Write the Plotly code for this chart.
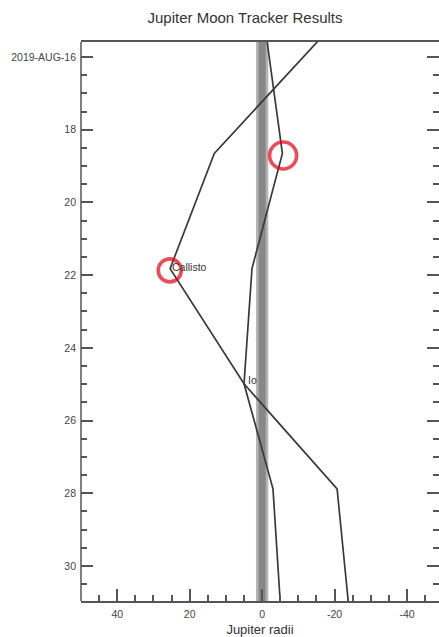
import plotly.graph_objects as go

# Sample epochs (day of August 2019) and apparent offsets from Jupiter in Jupiter radii
days = [15.5, 18.65, 21.82, 24.99, 27.88, 31.0]
io_offset = [-1.27, -5.6, 2.8, 5.0, -3.0, -5.0]
callisto_offset = [-16.0, 13.2, 25.4, 5.0, -20.7, -23.8]

# Highlighted positions (circled)
highlight_days = [18.71, 21.87]
highlight_offset = [-5.8, 25.5]
highlight_size = [27, 23]

# Axis ticks
y_tickvals = [16, 18, 20, 22, 24, 26, 28, 30]
y_ticktext = ["2019-AUG-16", "18", "20", "22", "24", "26", "28", "30"]
x_tickvals = [40, 20, 0, -20, -40]
x_ticktext = ["40", "20", "0", "-20", "-40"]

# Jupiter's disk drawn as a shaded band around zero offset
jupiter_core = 1.0
jupiter_halo = 1.7

X_RANGE = [50, -48.83]
Y_RANGE = [30.964, 15.587]

AXIS = "#555555"
INK = "#3a3a3a"
RED = "#e3000f"
FONT = "Liberation Sans, Arial, sans-serif"

fig = go.Figure()

fig.add_trace(go.Scatter(
    x=io_offset, y=days, mode="lines",
    line=dict(color=INK, width=1.7), name="Io", hoverinfo="skip",
))
fig.add_trace(go.Scatter(
    x=callisto_offset, y=days, mode="lines",
    line=dict(color=INK, width=1.7), name="Callisto", hoverinfo="skip",
))
fig.add_trace(go.Scatter(
    x=highlight_offset, y=highlight_days, mode="markers",
    marker=dict(symbol="circle-open", size=highlight_size,
                color=RED, line=dict(color=RED, width=3.6)),
    hoverinfo="skip",
))

# Moon name labels at their sample points
fig.add_annotation(x=callisto_offset[2], y=days[2], text="Callisto",
                   showarrow=False, xanchor="left", yanchor="middle",
                   xshift=0, yshift=2,
                   font=dict(family=FONT, size=10.5, color="#333333"))
fig.add_annotation(x=io_offset[3], y=days[3], text="Io",
                   showarrow=False, xanchor="left", yanchor="middle",
                   xshift=2, yshift=4,
                   font=dict(family=FONT, size=10.5, color="#333333"))

# Jupiter band
fig.add_shape(type="rect", xref="x", yref="paper",
              x0=-jupiter_halo, x1=jupiter_halo, y0=0, y1=1,
              fillcolor="#b4b4b4", line=dict(width=0), layer="below")
fig.add_shape(type="rect", xref="x", yref="paper",
              x0=-jupiter_core, x1=jupiter_core, y0=0, y1=1,
              fillcolor="#888888", line=dict(width=0), layer="below")
# left frame edge (the date axis only mirrors its ticks, not its line)
fig.add_shape(type="line", xref="paper", yref="paper",
              x0=0, x1=0, y0=0, y1=1,
              line=dict(color=AXIS, width=1.5), layer="above")

fig.update_layout(
    width=439, height=637,
    margin=dict(l=81, r=0, t=42, b=36),
    paper_bgcolor="white", plot_bgcolor="white",
    showlegend=False,
    title=dict(text="Jupiter Moon Tracker Results", xref="container",
               x=245 / 439, xanchor="center", y=1 - 18 / 637, yanchor="middle",
               font=dict(family=FONT, size=15, color="#333333")),
    font=dict(family=FONT, color="#444444"),
)

fig.update_xaxes(
    range=X_RANGE, showgrid=False, zeroline=False,
    showline=True, linecolor=AXIS, linewidth=1.5, mirror=True,
    ticks="inside", ticklen=12, tickwidth=1.5, tickcolor=AXIS,
    tickvals=x_tickvals, ticktext=x_ticktext, ticklabelstandoff=3,
    tickfont=dict(family=FONT, size=10.5, color="#444444"),
    minor=dict(ticks="inside", ticklen=6, tickwidth=1.5, tickcolor=AXIS,
               tick0=0, dtick=5),
    title=dict(text="Jupiter radii", standoff=8,
               font=dict(family=FONT, size=13, color="#333333")),
)
fig.update_yaxes(
    range=Y_RANGE, showgrid=False, zeroline=False,
    showline=False, mirror="ticks",
    ticks="inside", ticklen=12, tickwidth=1.5, tickcolor=AXIS,
    tickvals=y_tickvals, ticktext=y_ticktext, ticklabelstandoff=4,
    tickfont=dict(family=FONT, size=10.5, color="#444444"),
    minor=dict(ticks="inside", ticklen=6, tickwidth=1.5, tickcolor=AXIS,
               tick0=0, dtick=0.5),
)

fig.write_html("out.html")
